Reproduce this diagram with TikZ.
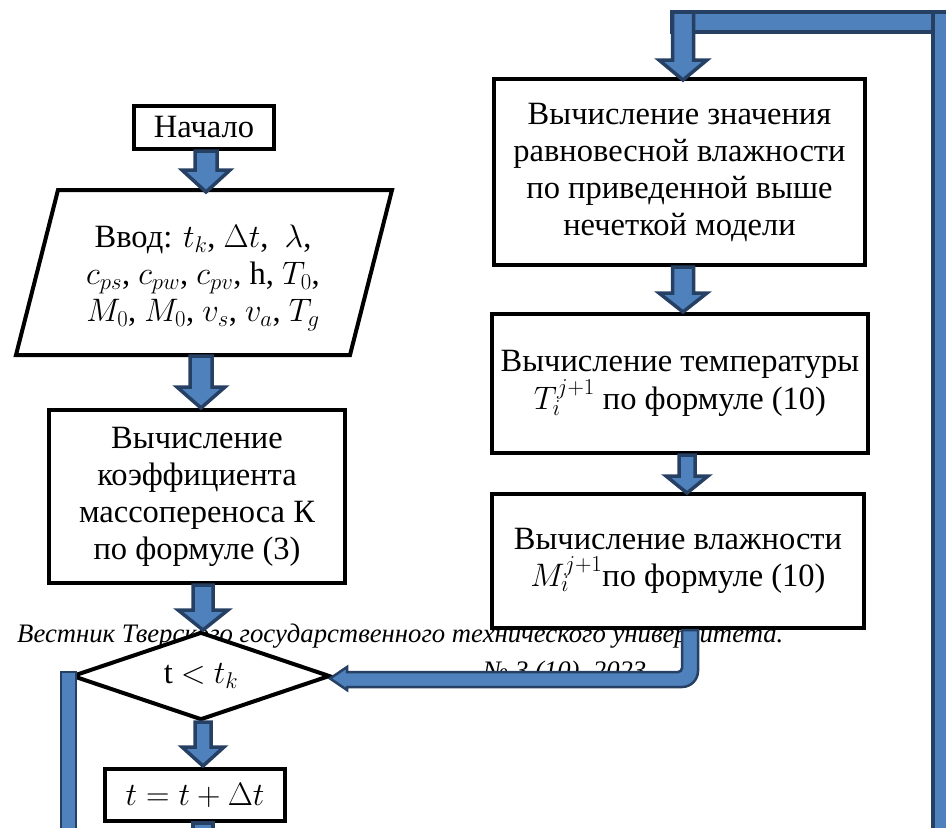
\RequirePackage{fix-cm}
\documentclass[tikz,border=0pt]{standalone}
\usepackage{fontspec}
\setmainfont{Liberation Serif}
\usetikzlibrary{shapes.geometric,calc}

\definecolor{arrowblue}{RGB}{79,129,189}
\definecolor{arrowdark}{RGB}{38,64,100}

% Thick downward block arrow: #1 start point, #2 tip point,
% #3 half shaft width, #4 half head width, #5 head length (pt)
\newcommand{\downblock}[5]{%
  \filldraw[barrow] let \p1=#1, \p2=#2 in
    (\x2-#3pt,\y1) -- (\x2+#3pt,\y1) -- (\x2+#3pt,\y2+#5pt) -- (\x2+#4pt,\y2+#5pt)
    -- (\x2,\y2) -- (\x2-#4pt,\y2+#5pt) -- (\x2-#3pt,\y2+#5pt) -- cycle;}

\begin{document}
\begin{tikzpicture}[x=1pt,y=-1pt,
  txt/.style={font=\fontsize{32.5}{37}\selectfont},
  procbox/.style={draw=black, line width=4, fill=white, inner sep=0, align=center, txt},
  barrow/.style={fill=arrowblue, draw=arrowdark, line width=3.5, line join=miter},
  bbar/.style={fill=arrowblue, draw=arrowdark, line width=2.5},
  hdr/.style={font=\fontsize{26.7}{30}\selectfont\itshape, inner sep=0, anchor=base west}]

\useasboundingbox (0,0) rectangle (946,828);
\clip (0,0) rectangle (946,828);

% running header of the journal page
\node[hdr] (hd1) at (17,642) {Вестник Тверского государственного технического университета.};
\node[hdr] (hd2) at (483,679) {№ 3 (10), 2023};

% left column
\node[procbox, minimum width=140, minimum height=43] (start) at (204,127.5) {Начало};

\coordinate (intop) at (206,190);
\coordinate (inbot) at (201,356);
\draw[line width=4, fill=white, line join=miter] (58,190) -- (392,190) -- (350,355) -- (16,355) -- cycle;
\node[txt, align=center, inner sep=0] (input) at (203,278)
  {Ввод: $t_k$, $\Delta t$,\ \ $\lambda$,\\ $c_{ps}$, $c_{pw}$, $c_{pv}$, h, $T_0$,\\ $M_0$, $M_0$, $v_s$, $v_a$, $T_g$};

\node[procbox, minimum width=296, minimum height=173] (calcK) at (197,496.5)
  {Вычисление\\коэффициента\\массопереноса К\\по формуле (3)};

\node[draw=black, line width=4, fill=white, diamond, aspect=2.93, minimum width=258,
      minimum height=88, inner sep=0, txt] (dia) at (201,676) {t $<$ $t_k$};

\node[procbox, minimum width=180, minimum height=52] (tinc) at (195,795) {$t = t + \Delta t$};

% right column
\node[procbox, minimum width=371, minimum height=186] (eqm) at (679.5,172)
  {Вычисление значения\\равновесной влажности\\по приведенной выше\\нечеткой модели};
\node[procbox, minimum width=376, minimum height=139] (temp) at (680,383.5)
  {Вычисление температуры\\$T_i^{j+1}$ по формуле (10)};
\node[procbox, minimum width=372, minimum height=134] (moist) at (678,561)
  {Вычисление влажности\\$M_i^{j+1}$по формуле (10)};

% block arrows of the left column
\downblock{(start.south)}{($(intop)+(0,2)$)}{11}{24}{22}
\downblock{(inbot)}{($(calcK.north)+(4,0)$)}{11}{24}{21}
\downblock{(calcK.south)}{($(dia.north)+(2,0)$)}{10}{25}{20}
\downblock{(dia.south)}{($(tinc.north)+(8,-1)$)}{8}{21}{19}
\filldraw[barrow] let \p1=(tinc.south) in (\x1-2pt,\y1) rectangle (\x1+18pt,-845pt);
\filldraw[bbar] let \p1=(dia.west) in (\x1-9pt,\y1+4pt) rectangle (\x1+6pt,-845pt);

% loop back from the bottom to the top of the right column
\coordinate (ltop) at (683,22);
\coordinate (rtop) at (943,22);
\coordinate (rbot) at (943,845);
\filldraw[barrow] ($(ltop)+(-11,-10)$) rectangle ($(rtop)+(-10,10)$);
\filldraw[barrow] ($(rtop)+(-10,-10)$) rectangle ($(rbot)+(10,0)$);
\downblock{($(ltop)+(0,-10)$)}{($(eqm.north)+(3.5,3)$)}{10.5}{24}{20}

% block arrows of the right column
\downblock{(eqm.south)}{($(temp.north)+(3,0)$)}{10.5}{24}{19}
\downblock{(temp.south)}{($(moist.north)+(9,1)$)}{8}{21}{17}

% bent arrow from the moisture box back to the decision, rounded at the elbow
\filldraw[bbar] let \p1=(moist.south), \p2=(dia.east) in
  (\x1+4pt,\y1) -- (\x1+20pt,\y1) -- (\x1+20pt,\y2+5pt)
  arc[start angle=0, end angle=-90, radius=16pt]
  -- (\x2+15pt,\y2-11pt) -- (\x2+15pt,\y2-14pt) -- (\x2-2pt,\y2-2.5pt)
  -- (\x2+15pt,\y2+9pt) -- (\x2+15pt,\y2+4pt) -- (\x1,\y2+4pt)
  arc[start angle=-90, end angle=0, radius=4pt]
  -- cycle;
\end{tikzpicture}
\end{document}
